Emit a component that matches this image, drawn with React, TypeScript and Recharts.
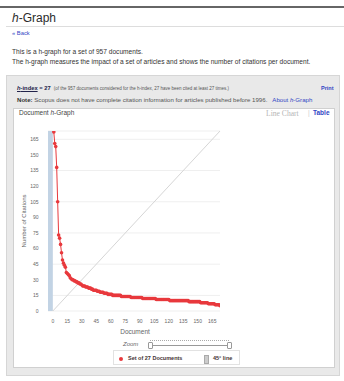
import React from "react";
import {
  ComposedChart, Line, XAxis, YAxis, CartesianGrid, ReferenceLine, ReferenceArea,
} from "recharts";

// citations per document, ranked (document 1 = most cited)
const citations = [
  172, 161, 158, 138, 105, 73, 70, 64, 56, 49,
  46, 44, 42, 37, 36, 35, 34, 32, 31, 30,
  30, 29, 29, 28, 28, 27, 27, 26, 26, 25,
  24, 24, 24, 23, 23, 23, 22, 22, 22, 21,
  21, 20, 20, 20, 20, 19, 19, 19, 18, 18,
  18, 18, 17, 17, 17, 17, 16, 16, 16, 16,
  16, 15, 15, 15, 15, 15, 15, 15, 15, 15,
  14, 14, 14, 14, 14, 14, 14, 14, 14, 14,
  13, 13, 13, 13, 13, 13, 13, 13, 13, 13,
  13, 13, 12, 12, 12, 12, 12, 12, 12, 12,
  12, 12, 12, 12, 12, 12, 11, 11, 11, 11,
  11, 11, 11, 11, 11, 11, 11, 11, 11, 11,
  10, 10, 10, 10, 10, 10, 10, 10, 10, 10,
  10, 10, 10, 10, 10, 10, 10, 10, 10, 10,
  9, 9, 9, 9, 9, 9, 9, 9, 9, 9,
  9, 9, 8, 8, 8, 8, 8, 8, 8, 8,
  7, 7, 7, 7, 7, 7, 7, 6, 6, 6,
  6, 6, 5,
];
const xTicks = [0, 15, 30, 45, 60, 75, 90, 105, 120, 135, 150, 165];
const yTicks = [0, 15, 30, 45, 60, 75, 90, 105, 120, 135, 150, 165];
const diagonal = [0, 173];
const hIndex = 27;
const docTotal = 957;

const data = citations.map((c, i) => ({ doc: i + 1, cites: c }));

const FONT = "Arial, 'Liberation Sans', sans-serif";
const RED = "#e8393d";
const BLUE = "#3345c4";

function T({ x, y, size, children, style }: {
  x: number; y: number; size: number; children: React.ReactNode; style?: React.CSSProperties;
}) {
  return (
    <div style={{
      position: "absolute", left: x, top: y - size / 2, fontSize: size, lineHeight: `${size}px`,
      whiteSpace: "nowrap", color: "#333", ...style,
    }}>
      {children}
    </div>
  );
}

export default function App() {
  return (
    <div style={{ position: "absolute", left: 0, top: 0, width: 344, height: 381, background: "#fff", fontFamily: FONT, overflow: "hidden" }}>
      {/* page chrome */}
      <div style={{ position: "absolute", left: 0, top: 6, width: 344, height: 2, background: "#666" }} />
      <div style={{ position: "absolute", left: 6, top: 26, width: 338, height: 1, background: "#ddd" }} />
      <T x={12} y={18} size={12} style={{ color: "#2b2b2b" }}><i>h</i>-Graph</T>
      <T x={12} y={34} size={5.8} style={{ color: BLUE }}>« Back</T>
      <T x={12} y={52.5} size={6.6}>This is a h-graph for a set of {docTotal} documents.</T>
      <T x={12} y={62.7} size={6.6}>The h-graph measures the impact of a set of articles and shows the number of citations per document.</T>

      {/* grey panel */}
      <div style={{ position: "absolute", left: 6, top: 75, width: 334, height: 301, background: "#e9e9e9", border: "1px solid #d6d6d6", boxSizing: "border-box" }} />
      <T x={17} y={88.5} size={5.8} style={{ fontWeight: "bold", color: "#22224a" }}>
        <span style={{ textDecoration: "underline" }}><i>h</i>-index</span> = {hIndex}
        <span style={{ fontWeight: "normal", fontSize: 4.5, color: "#555", marginLeft: 3 }}>
          (of the {docTotal} documents considered for the h-index, {hIndex} have been cited at least {hIndex} times.)
        </span>
      </T>
      <T x={321} y={88.5} size={5.5} style={{ fontWeight: "bold", color: BLUE }}>Print</T>
      <T x={17} y={100} size={6.1} style={{ color: "#555" }}>
        <b style={{ color: "#333" }}>Note:</b> Scopus does not have complete citation information for articles published before 1996.
        <span style={{ color: BLUE, marginLeft: 5 }}>About <i>h</i>-Graph</span>
      </T>

      {/* white chart box */}
      <div style={{ position: "absolute", left: 13, top: 108, width: 322, height: 260, background: "#fff", border: "1px solid #d0d0d0", boxSizing: "border-box" }} />
      <T x={19} y={113.5} size={6.5} style={{ color: "#444" }}>Document <i>h</i>-Graph</T>
      <T x={266} y={113.5} size={7.6} style={{ color: "#b5b5b5", fontFamily: "'Liberation Serif', serif" }}>Line Chart</T>
      <T x={308} y={113.5} size={6.5} style={{ color: "#ccc" }}>|</T>
      <T x={313} y={113.5} size={6.5} style={{ color: BLUE, fontWeight: "bold" }}>Table</T>

      <div style={{ position: "absolute", left: 0, top: 120 }}>
        <ComposedChart width={240} height={215} data={data} margin={{ top: 11, right: 20, bottom: 10, left: 10 }}>
          <CartesianGrid vertical={false} stroke="#efefef" />
          <ReferenceArea x1={-5} x2={0} y1={0} y2={173} fill="#c2d3e4" fillOpacity={1} stroke="none" />
          <XAxis dataKey="doc" type="number" domain={[-5, 173]} ticks={xTicks} allowDataOverflow
            tick={{ fontSize: 5, fill: "#666", fontFamily: FONT }} axisLine={false} tickLine={false} height={14} />
          <YAxis type="number" domain={[0, 173]} ticks={yTicks} allowDataOverflow width={38}
            tick={{ fontSize: 5, fill: "#666", fontFamily: FONT }} axisLine={false} tickLine={false} tickMargin={3.5} />
          <ReferenceLine segment={[{ x: diagonal[0], y: diagonal[0] }, { x: diagonal[1], y: diagonal[1] }]}
            stroke="#d6d6d6" strokeWidth={1} />
          <Line dataKey="cites" name={`Set of ${hIndex} Documents`} stroke={RED} strokeWidth={1}
            dot={{ r: 1.8, fill: RED, stroke: "none" }} isAnimationActive={false} />
        </ComposedChart>
      </div>

      {/* axis titles */}
      <div style={{
        position: "absolute", left: 24 - 40, top: 221 - 3, width: 80, textAlign: "center", fontSize: 6,
        lineHeight: "6px", color: "#666", transform: "rotate(-90deg)", whiteSpace: "nowrap",
      }}>Number of Citations</div>
      <div style={{ position: "absolute", left: 95, top: 328.5, width: 80, textAlign: "center", fontSize: 6.5, lineHeight: "6.5px", color: "#666" }}>
        Document
      </div>

      {/* zoom slider */}
      <T x={123} y={344} size={6} style={{ color: "#666", fontStyle: "italic" }}>Zoom</T>
      <div style={{ position: "absolute", left: 150, top: 340, width: 79, height: 0, borderTop: "1px dotted #aaa" }} />
      <div style={{ position: "absolute", left: 150, top: 345, width: 79, height: 1, background: "#999" }} />
      <div style={{ position: "absolute", left: 148, top: 342, width: 3, height: 5, border: "1px solid #999", borderRadius: 1, background: "#fff" }} />
      <div style={{ position: "absolute", left: 227, top: 342, width: 3, height: 5, border: "1px solid #999", borderRadius: 1, background: "#fff" }} />

      {/* legend */}
      <div style={{ position: "absolute", left: 113, top: 350, width: 127, height: 15, border: "1px solid #e2e2e2", boxSizing: "border-box", background: "#fff" }} />
      <div style={{ position: "absolute", left: 118.5, top: 356.5, width: 4, height: 4, borderRadius: 2, background: RED }} />
      <T x={128} y={358.5} size={5.5} style={{ fontWeight: "bold", color: "#443333" }}>Set of {hIndex} Documents</T>
      <div style={{ position: "absolute", left: 204, top: 354.5, width: 3, height: 7, background: "#ccc", border: "1px solid #aaa" }} />
      <T x={213} y={358.5} size={5.5} style={{ fontWeight: "bold", color: "#443333" }}>45° line</T>
    </div>
  );
}
